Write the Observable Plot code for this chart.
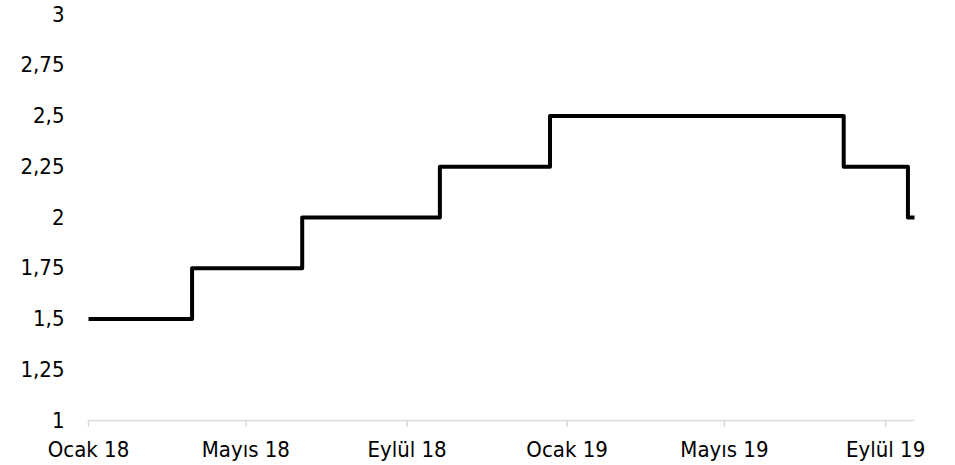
<!DOCTYPE html>
<html>
<head>
<meta charset="utf-8">
<script src="https://cdn.jsdelivr.net/npm/d3@7"></script>
<script src="https://cdn.jsdelivr.net/npm/@observablehq/plot@0.6"></script>
<style>
  html, body { margin: 0; padding: 0; background: #fff; }
  #chart svg { display: block; font-family: "DejaVu Sans Condensed", "DejaVu Sans", sans-serif; }
</style>
</head>
<body>
<div id="chart"></div>
<script>
// Policy rate (upper bound, %) — dates on which the rate changed, plus the last observation
const rateDates = ["2018-01-01", "2018-03-21", "2018-06-13", "2018-09-26", "2018-12-19", "2019-07-31", "2019-09-18", "2019-09-23"];
const rateValues = [1.5, 1.75, 2.0, 2.25, 2.5, 2.25, 2.0, 2.0];

// Axis ticks
const xTickDates = ["2018-01-01", "2018-05-01", "2018-09-01", "2019-01-01", "2019-05-01", "2019-09-01"];
const xTickLabels = ["Ocak 18", "Mayıs 18", "Eylül 18", "Ocak 19", "Mayıs 19", "Eylül 19"];
const yTicks = [1, 1.25, 1.5, 1.75, 2, 2.25, 2.5, 2.75, 3];

const parse = d3.utcParse("%Y-%m-%d");
const series = rateDates.map((d, i) => ({date: parse(d), rate: rateValues[i]}));
const xTicks = xTickDates.map(parse);
const labelFor = new Map(xTicks.map((d, i) => [+d, xTickLabels[i]]));

const chart = Plot.plot({
  width: 955,
  height: 465,
  marginLeft: 88,
  marginRight: 41,
  marginTop: 14,
  marginBottom: 45,
  style: {fontSize: "22px", fontFamily: "DejaVu Sans Condensed, DejaVu Sans, sans-serif", color: "#000", background: "#fff"},
  x: {type: "utc", domain: [series[0].date, series[series.length - 1].date]},
  y: {domain: [1, 3]},
  marks: [
    Plot.ruleY([1], {stroke: "#d9d9d9", strokeWidth: 1.5}),
    Plot.axisY({
      ticks: yTicks,
      tickSize: 0,
      tickPadding: 24,
      label: null,
      fontSize: 22,
      tickFormat: d => String(d).replace(".", ",")
    }),
    Plot.axisX({
      ticks: xTicks,
      tickSize: 7,
      tickPadding: 14,
      stroke: "#d9d9d9",
      strokeWidth: 1.5,
      fill: "#000",
      label: null,
      fontSize: 22,
      tickFormat: d => labelFor.get(+d)
    }),
    Plot.line(series, {
      x: "date",
      y: "rate",
      curve: "step-after",
      stroke: "#000",
      strokeWidth: 4,
      strokeLinejoin: "round",
      strokeLinecap: "butt"
    })
  ]
});

document.getElementById("chart").appendChild(chart);
</script>
</body>
</html>
